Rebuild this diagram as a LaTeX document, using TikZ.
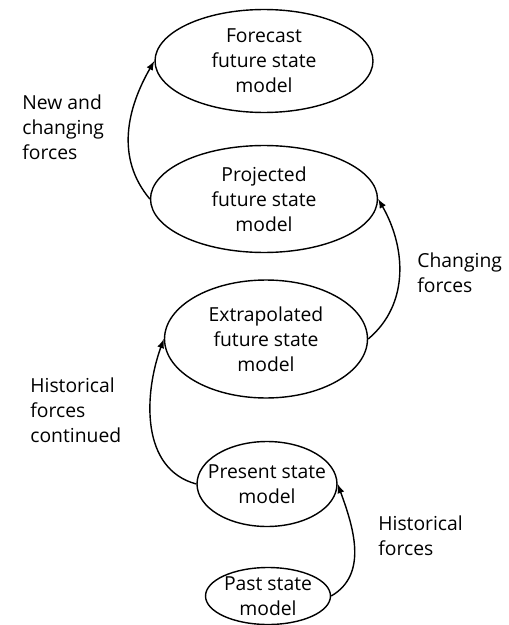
\documentclass[tikz,border=0pt]{standalone}
\usepackage{fontspec}
\setmainfont{Open Sans}
\usepackage{tikz}
\usetikzlibrary{shapes.geometric,arrows}

\begin{document}
\begin{tikzpicture}[x=0.02cm,y=-0.02cm]
	\tikzstyle{state_style} = [ellipse,draw=black,line width=0.8pt,inner sep=-6pt,align=center,font=\fontsize{11}{14.2}\selectfont]
	\tikzstyle{edge_style} = [draw=black,line width=0.8pt,->,>=latex]
	\tikzstyle{force_style} = [anchor=west,align=left,inner sep=0pt,font=\fontsize{11}{14.2}\selectfont]
	\useasboundingbox (0,0) rectangle (509,625);
		\node[state_style,minimum width=4.36cm,minimum height=2.06cm] (v1) at (264,61) {Forecast\\future state\\model};
		\node[state_style,minimum width=4.54cm,minimum height=2.14cm] (v2) at (264,199) {Projected\\future state\\model};
		\node[state_style,minimum width=4.06cm,minimum height=2.36cm] (v3) at (266,339) {Extrapolated\\future state\\model};
		\node[state_style,minimum width=2.8cm,minimum height=1.7cm] (v4) at (267,484) {Present state\\model};
		\node[state_style,minimum width=2.5cm,minimum height=1.14cm] (v5) at (268,596) {Past state\\model};
		\node[force_style] (f1) at (22,127) {New and\\changing\\forces};
		\node[force_style] (f2) at (417,273) {Changing\\forces};
		\node[force_style] (f3) at (30,410) {Historical\\forces\\continued};
		\node[force_style] (f4) at (378,536) {Historical\\forces};
		\draw[edge_style] (v2.west) to[out=130,in=240] (v1.west);
		\draw[edge_style] (v3.east) to[out=40,in=300] (v2.east);
		\draw[edge_style] (v4.west) to[out=165,in=250] (v3.west);
		\draw[edge_style] (v5.east) to[out=30,in=290] (v4.east);
\end{tikzpicture}
\end{document}
